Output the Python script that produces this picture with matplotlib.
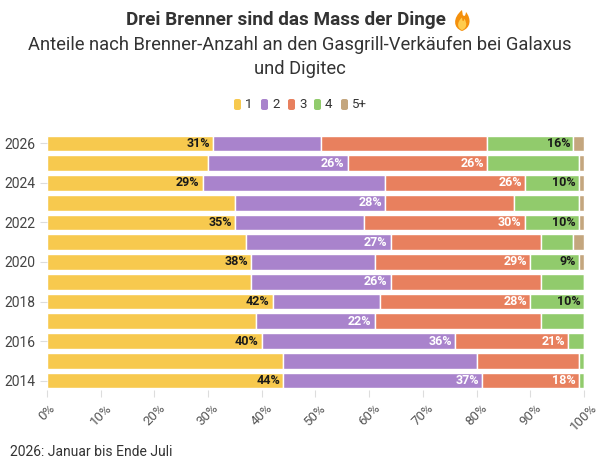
import matplotlib
matplotlib.use("Agg")
import matplotlib.pyplot as plt
from matplotlib.patches import FancyBboxPatch, PathPatch
from matplotlib.path import Path
import numpy as np

plt.rcParams['font.family'] = ['Roboto', 'DejaVu Sans']

years = [2014, 2015, 2016, 2017, 2018, 2019, 2020, 2021, 2022, 2023, 2024, 2025, 2026]
categories = ["1", "2", "3", "4", "5+"]
s1 = [44, 44, 40, 39, 42, 38, 38, 37, 35, 35, 29, 30, 31]
s2 = [37, 36, 36, 22, 20, 26, 23, 27, 24, 28, 34, 26, 20]
s3 = [18, 19, 21, 31, 28, 28, 29, 28, 30, 24, 26, 26, 31]
s4 = [1, 1, 3, 8, 10, 8, 9, 6, 10, 12, 10, 17, 16]
s5 = [0, 0, 0, 0, 0, 0, 1, 2, 1, 1, 1, 1, 2]
# which segment labels are displayed (per year, per category)
show1 = [1, 0, 1, 0, 1, 0, 1, 0, 1, 0, 1, 0, 1]
show2 = [1, 0, 1, 1, 0, 1, 0, 1, 0, 1, 0, 1, 0]
show3 = [1, 0, 1, 0, 1, 0, 1, 0, 1, 0, 1, 1, 0]
show4 = [0, 0, 0, 0, 1, 0, 1, 0, 1, 0, 1, 0, 1]
show5 = [0] * 13

colors = ["#F7C94E", "#A983CC", "#E8805E", "#91CB6C", "#C4A67E"]
label_colors = ["#1a1a1a", "white", "white", "#1a1a1a", "#1a1a1a"]

series = [s1, s2, s3, s4, s5]
shows = [show1, show2, show3, show4, show5]

fig = plt.figure(figsize=(6, 4.67), dpi=100)
ax = fig.add_axes([0.0783, 0.164, 0.895, 0.55])

y = np.arange(len(years))
left = np.zeros(len(years))
for k, vals in enumerate(series):
    vals = np.array(vals, dtype=float)
    ax.barh(y, vals, left=left, height=0.8, color=colors[k],
            edgecolor="white", linewidth=1.0)
    for i, v in enumerate(vals):
        if shows[k][i]:
            ax.text(left[i] + v - 0.6, y[i], f"{int(v)}%", ha="right", va="center",
                    fontsize=9, fontweight="bold", color=label_colors[k])
    left += vals

ax.set_xlim(0, 100)
ax.set_ylim(-0.5, len(years) - 0.5)
ax.set_yticks([i for i, yr in enumerate(years) if yr % 2 == 0])
ax.set_yticklabels([str(yr) for yr in years if yr % 2 == 0])
xt = list(range(0, 101, 10))
ax.set_xticks(xt)
ax.set_xticklabels([f"{t}%" for t in xt], rotation=45, ha="center", va="top")
ax.tick_params(axis="y", length=5, color="#dddddd", labelsize=10, labelcolor="#444444", pad=3)
ax.tick_params(axis="x", length=5, color="#dddddd", labelsize=9.5, labelcolor="#555555", pad=3)
for sp in ax.spines.values():
    sp.set_visible(False)

fig.text(286 / 600, 0.957, "Drei Brenner sind das Mass der Dinge", ha="center", va="center",
         fontsize=13.6, fontweight="bold", color="#333333")
fig.text(0.5, 0.903, "Anteile nach Brenner-Anzahl an den Gasgrill-Verkäufen bei Galaxus",
         ha="center", va="center", fontsize=13.2, color="#333333")
fig.text(0.5, 0.852, "und Digitec", ha="center", va="center", fontsize=13.2, color="#333333")

# small flame drawn next to the title (in place of the emoji)
def flame(cx, cy, w, h, color):
    pts = [(0.0, 1.0), (-0.6, 0.6), (-0.55, 0.1), (0.0, -0.05),
           (0.55, 0.1), (0.6, 0.55), (0.25, 0.9), (0.2, 0.6), (0.05, 0.75), (0.0, 1.0)]
    codes = [Path.MOVETO, Path.CURVE4, Path.CURVE4, Path.CURVE4,
             Path.CURVE4, Path.CURVE4, Path.CURVE4, Path.CURVE3, Path.CURVE3, Path.CLOSEPOLY]
    verts = [((cx + px * w) / 600, 1 - (cy + (0.5 - py) * h) / 467) for px, py in pts]
    fig.patches.append(PathPatch(Path(verts, codes), transform=fig.transFigure,
                                 facecolor=color, edgecolor="none"))

flame(462, 20, 16, 20, "#F4900C")
flame(462, 23.5, 9, 12, "#FFCC4D")

# legend
lx = [234, 261, 288, 314, 341]
for k, c in enumerate(categories):
    x0 = lx[k] / 600
    p = FancyBboxPatch((x0, 1 - 110 / 467), 7 / 600, 11 / 467,
                       boxstyle="round,pad=0,rounding_size=0.004",
                       transform=fig.transFigure, facecolor=colors[k], edgecolor="none")
    fig.patches.append(p)
    fig.text(x0 + 11 / 600, 1 - 104.5 / 467, c, ha="left", va="center",
             fontsize=9.5, color="#333333")

fig.text(10 / 600, 1 - 452 / 467, "2026: Januar bis Ende Juli", ha="left", va="center",
         fontsize=10, color="#333333")

fig.savefig("out.png", dpi=100, facecolor="white")
